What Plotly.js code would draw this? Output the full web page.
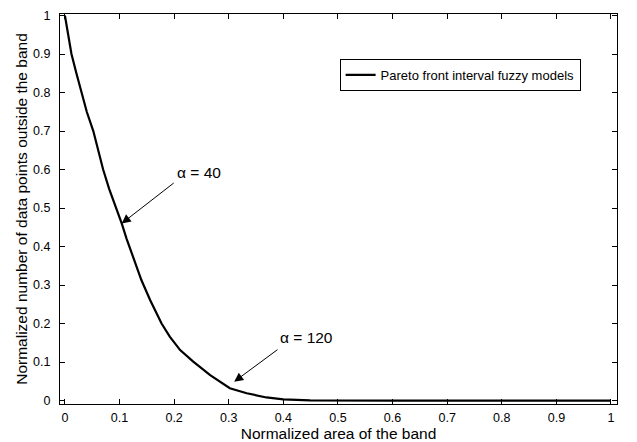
<!DOCTYPE html>
<html>
<head>
<meta charset="utf-8">
<script src="https://cdn.plot.ly/plotly-3.0.1.min.js"></script>
<style>html,body{margin:0;padding:0;background:#fff}#chart{width:637px;height:442px}</style>
</head>
<body>
<div id="chart"></div>
<script>
// Data
const areaBand = [0, 0.012, 0.021, 0.030, 0.040, 0.052, 0.061, 0.070, 0.081, 0.094, 0.104, 0.113, 0.125, 0.140, 0.156, 0.168, 0.177, 0.192, 0.211, 0.235, 0.266, 0.302, 0.333, 0.369, 0.400, 0.449, 0.5, 0.6, 0.7, 0.8, 0.9, 1.0];
const pointsOutside = [1.0, 0.900, 0.850, 0.800, 0.750, 0.700, 0.650, 0.600, 0.550, 0.500, 0.460, 0.420, 0.370, 0.313, 0.261, 0.226, 0.200, 0.166, 0.131, 0.101, 0.066, 0.032, 0.019, 0.008, 0.003, 0.0005, 0, 0, 0, 0, 0, 0];
const seriesName = 'Pareto front interval fuzzy models';
const xTicks = [0, 0.1, 0.2, 0.3, 0.4, 0.5, 0.6, 0.7, 0.8, 0.9, 1];
const xTickText = ['0', '0.1', '0.2', '0.3', '0.4', '0.5', '0.6', '0.7', '0.8', '0.9', '1'];
const yTicks = [0, 0.1, 0.2, 0.3, 0.4, 0.5, 0.6, 0.7, 0.8, 0.9, 1];
const yTickText = ['0', '0.1', '0.2', '0.3', '0.4', '0.5', '0.6', '0.7', '0.8', '0.9', '1'];
const annLabels = ['\u03b1 = 40', '\u03b1 = 120'];
const annTips = [[0.104, 0.46], [0.310, 0.049]];
const annTails = [[0.202, 0.568], [0.392, 0.135]];
const annTextPos = [[0.245, 0.592], [0.442, 0.165]];

const font = 'Liberation Sans, Arial, Helvetica, sans-serif';

const trace = {
  x: areaBand, y: pointsOutside, type: 'scatter', mode: 'lines',
  name: seriesName, line: {color: '#000', width: 2.2}
};

const annotations = [];
for (let i = 0; i < annLabels.length; i++) {
  annotations.push({
    x: annTips[i][0], y: annTips[i][1], xref: 'x', yref: 'y',
    ax: annTails[i][0], ay: annTails[i][1], axref: 'x', ayref: 'y',
    text: '', showarrow: true, arrowhead: 2, arrowsize: 1.8, arrowwidth: 1, arrowcolor: '#000'
  });
  annotations.push({
    x: annTextPos[i][0], y: annTextPos[i][1], xref: 'x', yref: 'y',
    text: annLabels[i], showarrow: false, font: {family: font, size: 15.5, color: '#000'}
  });
}

const axisCommon = {
  showline: true, linecolor: '#000', linewidth: 1, mirror: 'ticks',
  ticks: 'inside', ticklen: 5, tickcolor: '#000', tickwidth: 1,
  showgrid: false, zeroline: false, tickmode: 'array',
  tickfont: {family: font, size: 12.5, color: '#000'}
};

const layout = {
  width: 637, height: 442,
  margin: {l: 60, r: 20, t: 14, b: 38},
  paper_bgcolor: '#fff', plot_bgcolor: '#fff',
  showlegend: true,
  legend: {
    x: 0.502, y: 0.885, xanchor: 'left', yanchor: 'top',
    bgcolor: '#fff', bordercolor: '#000', borderwidth: 1,
    font: {family: font, size: 13, color: '#000'}
  },
  xaxis: Object.assign({}, axisCommon, {
    range: [-0.009, 1.011], tickvals: xTicks, ticktext: xTickText,
    ticklabelstandoff: 2,
    title: {text: 'Normalized area of the band', font: {family: font, size: 15.5, color: '#000'}, standoff: 4}
  }),
  yaxis: Object.assign({}, axisCommon, {
    range: [-0.009, 1.004], tickvals: yTicks, ticktext: yTickText,
    ticklabelstandoff: 6,
    title: {text: 'Normalized number of data points outside the band', font: {family: font, size: 15.5, color: '#000'}, standoff: 1}
  }),
  annotations: annotations
};

Plotly.newPlot('chart', [trace], layout, {displayModeBar: false, staticPlot: true});
</script>
</body>
</html>
